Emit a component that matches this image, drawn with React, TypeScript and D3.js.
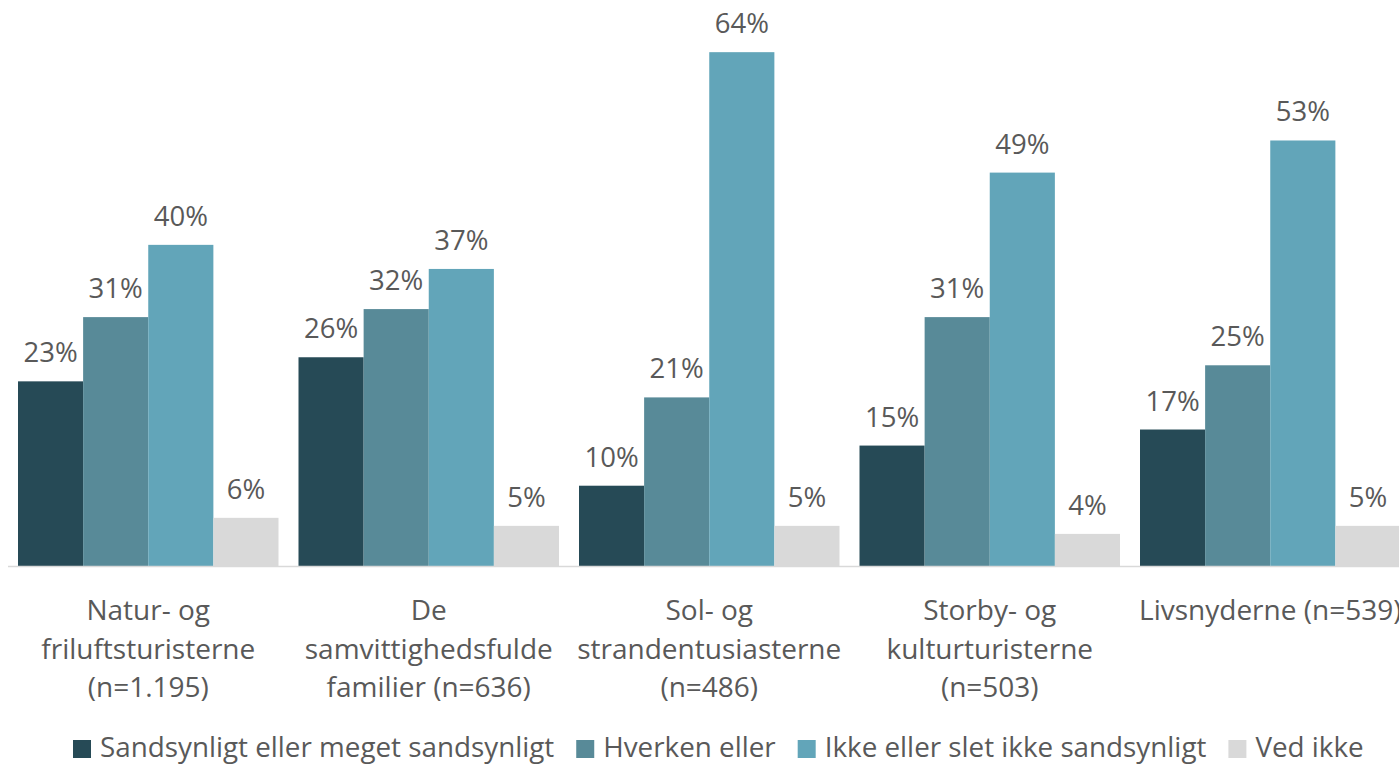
import React, { useEffect, useRef } from "react";
import * as d3 from "d3";

const categories = [
  "Natur- og friluftsturisterne (n=1.195)",
  "De samvittighedsfulde familier (n=636)",
  "Sol- og strandentusiasterne (n=486)",
  "Storby- og kulturturisterne (n=503)",
  "Livsnyderne (n=539)",
];
const categoryLines = [
  ["Natur- og", "friluftsturisterne", "(n=1.195)"],
  ["De", "samvittighedsfulde", "familier (n=636)"],
  ["Sol- og", "strandentusiasterne", "(n=486)"],
  ["Storby- og", "kulturturisterne", "(n=503)"],
  ["Livsnyderne (n=539)"],
];
const seriesNames = [
  "Sandsynligt eller meget sandsynligt",
  "Hverken eller",
  "Ikke eller slet ikke sandsynligt",
  "Ved ikke",
];
const sandsynligt = [23, 26, 10, 15, 17];
const hverken = [31, 32, 21, 31, 25];
const ikke = [40, 37, 64, 49, 53];
const vedIkke = [6, 5, 5, 4, 5];
const seriesValues = [sandsynligt, hverken, ikke, vedIkke];
const colors = ["#264a56", "#588a98", "#62a5b9", "#d9d9d9"];

const W = 1399;
const H = 765;
const FONT = "'Open Sans', sans-serif";
const TEXT = "#595959";

export default function App() {
  const ref = useRef<SVGSVGElement>(null);
  useEffect(() => {
    const svg = d3.select(ref.current);
    svg.selectAll("*").remove();

    const x0 = d3.scaleBand<string>().domain(categories).range([8, 1410.5]);
    const x1 = d3
      .scaleBand<string>()
      .domain(seriesNames)
      .range([10, x0.bandwidth() - 10]);
    const y = d3.scaleLinear().domain([0, 70]).range([566, 4]);

    const g = svg.append("g");
    categories.forEach((c, ci) => {
      seriesNames.forEach((s, si) => {
        const v = seriesValues[si][ci];
        const bx = (x0(c) as number) + (x1(s) as number);
        g.append("rect")
          .attr("x", bx)
          .attr("y", y(v))
          .attr("width", x1.bandwidth())
          .attr("height", y(0) - y(v))
          .attr("fill", colors[si]);
        g.append("text")
          .attr("x", bx + x1.bandwidth() / 2)
          .attr("y", y(v) - 19)
          .attr("text-anchor", "middle")
          .attr("font-family", FONT)
          .attr("font-size", 27.5)
          .attr("fill", TEXT)
          .text(`${v}%`);
      });
    });

    svg
      .append("line")
      .attr("x1", 8)
      .attr("x2", 1410)
      .attr("y1", y(0) + 0.5)
      .attr("y2", y(0) + 0.5)
      .attr("stroke", "#d9d9d9")
      .attr("stroke-width", 1.5);

    categories.forEach((c, ci) => {
      const cx = (x0(c) as number) + x0.bandwidth() / 2;
      categoryLines[ci].forEach((line, li) => {
        svg
          .append("text")
          .attr("x", cx)
          .attr("y", 620 + li * 38.5)
          .attr("text-anchor", "middle")
          .attr("font-family", FONT)
          .attr("font-size", 28)
          .attr("fill", TEXT)
          .text(line);
      });
    });

    // legend
    const lg = svg.append("g");
    const items: { g: any; w: number }[] = [];
    seriesNames.forEach((s, si) => {
      const ig = lg.append("g");
      ig.append("rect")
        .attr("x", 0)
        .attr("y", 740)
        .attr("width", 18)
        .attr("height", 18)
        .attr("fill", colors[si]);
      const t = ig
        .append("text")
        .attr("x", 27)
        .attr("y", 757)
        .attr("font-family", FONT)
        .attr("font-size", 27.8)
        .attr("fill", TEXT)
        .text(s);
      const tw = (t.node() as SVGTextElement).getComputedTextLength();
      items.push({ g: ig, w: 27 + tw });
    });
    const gap = 22;
    const total = d3.sum(items, (d) => d.w) + gap * (items.length - 1);
    let cur = 73;
    items.forEach((it) => {
      it.g.attr("transform", `translate(${cur},0)`);
      cur += it.w + gap;
    });
    void total;
  }, []);

  return (
    <svg
      ref={ref}
      width={W}
      height={H}
      style={{ position: "absolute", left: 0, top: 0, background: "#fff" }}
    />
  );
}
